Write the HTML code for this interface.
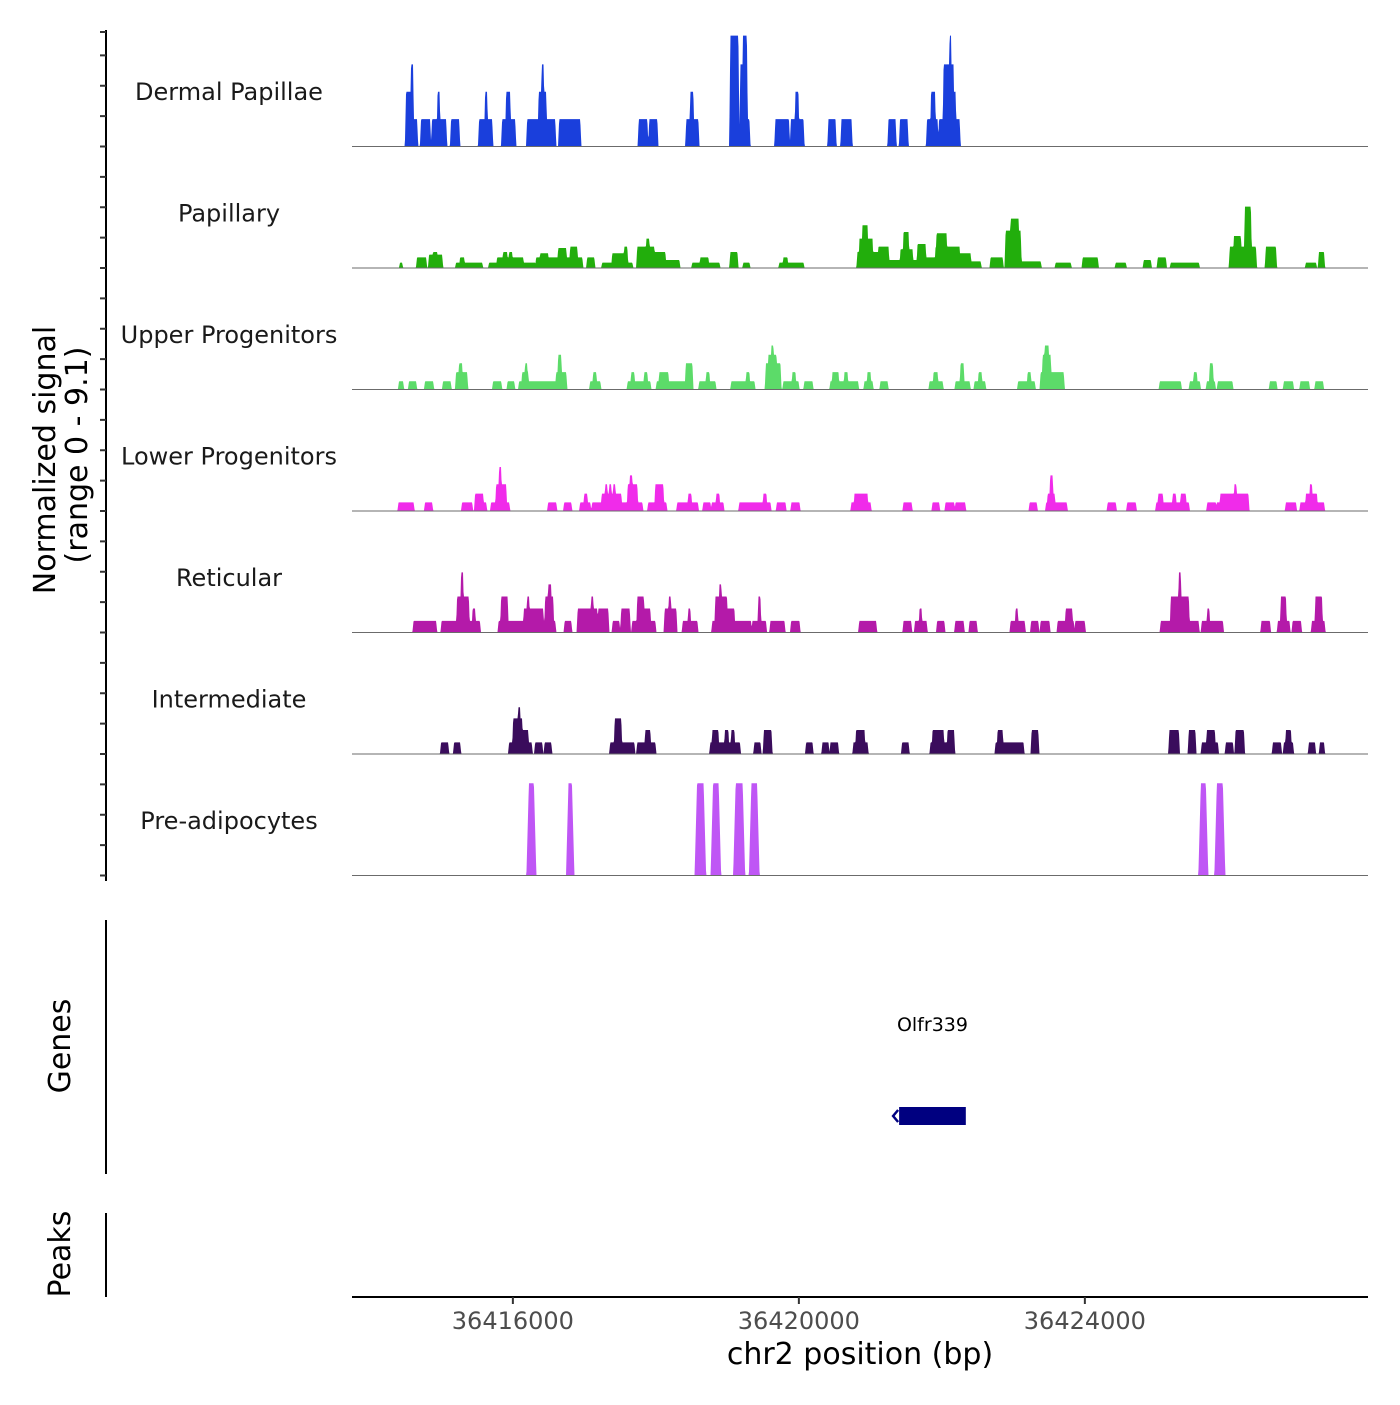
<!DOCTYPE html>
<html><head><meta charset="utf-8"><style>
html,body{margin:0;padding:0;background:#fff;}
svg text{font-family:"DejaVu Sans","Liberation Sans",sans-serif;}
</style></head><body>
<svg id="chart" width="1400" height="1400" viewBox="0 0 1400 1400" xmlns="http://www.w3.org/2000/svg">
<rect x="0" y="0" width="1400" height="1400" fill="#fff"/>
<g id="tracks"></g>
<g id="leftaxis"></g>
<text transform="translate(55,460) rotate(-90)" text-anchor="middle" font-size="30" fill="#000">Normalized signal</text>
<text transform="translate(87,455) rotate(-90)" text-anchor="middle" font-size="30" fill="#000">(range 0 - 9.1)</text>
<line x1="106" y1="920" x2="106" y2="1174" stroke="#000" stroke-width="2"/>
<text transform="translate(70,1046) rotate(-90)" text-anchor="middle" font-size="30" fill="#000">Genes</text>
<line x1="106" y1="1213" x2="106" y2="1297" stroke="#000" stroke-width="2"/>
<text transform="translate(70,1254) rotate(-90)" text-anchor="middle" font-size="30" fill="#000">Peaks</text>
<g id="genes"></g>
<g id="xaxis"></g>
<text x="860" y="1364" text-anchor="middle" font-size="30" fill="#000">chr2 position (bp)</text>
</svg>
<script>
const regionStart = 36413750;
const regionEnd = 36427960;
const yMax = 9.1;
const xTicks = [36416000, 36420000, 36424000];
const xTickLabels = ["36416000", "36420000", "36424000"];
const trackNames = ["Dermal Papillae","Papillary","Upper Progenitors","Lower Progenitors","Reticular","Intermediate","Pre-adipocytes"];
const trackColors = ["#1a3fdc","#22ae0c","#5cdb69","#f02bea","#b41aa9","#3a0c5c","#bf56f5"];
// segments: [startOffsetBp, endOffsetBp, value] relative to regionStart
const dermalPapillae = [[756,910,2.05],[756,833,4.1],[826,854,6.15],[966,1092,2.05],[1120,1316,2.05],[1197,1225,4.1],[1386,1498,2.05],[1778,1960,2.05],[1862,1890,4.1],[2100,2282,2.05],[2156,2212,4.1],[2450,2842,2.05],[2611,2716,4.1],[2653,2681,6.15],[2898,3192,2.05],[4011,4130,2.05],[4158,4270,2.05],[4676,4844,2.05],[4732,4774,4.1],[5292,5404,8.3],[5432,5558,2.05],[5432,5467,6.15],[5467,5523,8.3],[5922,6111,2.05],[6139,6314,2.05],[6202,6244,4.1],[6664,6762,2.05],[6846,6986,2.05],[7504,7602,2.05],[7665,7770,2.05],[8043,8190,2.05],[8099,8155,4.1],[8211,8498,2.05],[8274,8414,6.15],[8358,8380,8.3],[8414,8442,4.1]];
const papillary = [[672,700,0.4],[910,1036,0.8],[1078,1260,1.0],[1134,1190,1.2],[1456,1820,0.4],[1512,1568,0.8],[1918,2562,0.4],[2030,2394,0.8],[2114,2170,1.2],[2198,2240,1.2],[2576,3220,0.8],[2632,2744,1.1],[2884,2996,1.5],[3052,3150,1.6],[3290,3388,0.8],[3500,3920,0.4],[3640,3836,1.1],[3808,3850,1.6],[3990,4228,1.6],[4116,4158,2.2],[4228,4382,1.2],[4382,4578,0.6],[4760,5138,0.4],[4872,4984,0.8],[5292,5390,1.2],[5474,5558,0.4],[5978,6314,0.4],[6034,6090,0.8],[7070,7364,1.2],[7098,7280,2.2],[7140,7210,3.2],[7364,7504,1.6],[7504,7672,0.6],[7672,7840,1.4],[7714,7784,2.7],[7840,7910,0.6],[7910,8022,1.8],[8022,8162,0.8],[8162,8498,1.6],[8176,8316,2.6],[8498,8652,1.1],[8652,8792,0.5],[8932,9100,0.8],[9142,9352,2.8],[9212,9324,3.7],[9352,9632,0.5],[9842,10052,0.4],[10220,10430,0.8],[10682,10822,0.4],[11074,11172,0.6],[11270,11382,0.8],[11452,11844,0.4],[12278,12642,1.6],[12334,12432,2.4],[12488,12572,4.6],[12782,12922,1.6],[13342,13482,0.4],[13524,13594,1.2]];
const upperProgenitors = [[658,714,0.62],[798,896,0.62],[1022,1134,0.62],[1274,1379,0.62],[1456,1610,1.3],[1498,1540,1.97],[1974,2086,0.62],[2177,2268,0.62],[2338,2856,0.62],[2380,2464,1.3],[2422,2450,1.97],[2856,2996,1.3],[2884,2926,2.6],[3332,3472,0.62],[3374,3416,1.3],[3857,4172,0.62],[3906,3948,1.3],[4088,4130,1.3],[4263,4760,0.62],[4298,4424,1.3],[4669,4760,1.97],[4858,5082,0.62],[4956,4998,1.3],[5306,5628,0.62],[5516,5558,1.3],[5789,5992,1.97],[5824,5936,2.6],[5866,5894,3.3],[6034,6244,0.62],[6160,6202,1.3],[6328,6440,0.62],[6692,7077,0.62],[6720,6804,1.3],[6888,6930,1.3],[7168,7280,0.62],[7210,7252,1.3],[7392,7490,0.62],[8078,8260,0.62],[8134,8190,1.3],[8442,8638,0.62],[8512,8554,1.97],[8708,8855,0.62],[8764,8806,1.3],[9317,9548,0.62],[9450,9492,1.3],[9632,9954,1.3],[9660,9772,2.6],[9688,9744,3.3],[11298,11592,0.62],[11718,11858,0.62],[11774,11816,1.3],[11956,12068,0.62],[11998,12040,1.97],[12110,12313,0.62],[12838,12929,0.62],[13034,13160,0.62],[13265,13384,0.62],[13475,13580,0.62]];
const lowerProgenitors = [[651,861,0.65],[1022,1120,0.65],[1540,1680,0.65],[1722,1876,0.65],[1722,1834,1.3],[1946,2198,0.65],[2016,2156,2.0],[2058,2086,3.3],[2744,2856,0.65],[2968,3066,0.65],[3192,3332,0.65],[3248,3290,1.3],[3360,3493,0.65],[3493,3766,1.3],[3542,3570,2.0],[3598,3626,2.0],[3654,3682,2.0],[3766,3857,0.65],[3857,3990,2.0],[3885,3920,2.67],[3990,4060,0.65],[4144,4396,0.65],[4242,4354,2.0],[4550,4837,0.65],[4704,4746,1.3],[4914,5012,0.65],[5033,5194,0.65],[5096,5138,1.3],[5418,5852,0.65],[5754,5796,1.3],[5943,6062,0.65],[6146,6258,0.65],[6986,7252,0.65],[7028,7210,1.3],[7714,7826,0.65],[8120,8211,0.65],[8302,8421,0.65],[8442,8575,0.65],[9478,9576,0.65],[9709,9996,0.65],[9730,9828,1.3],[9765,9800,2.67],[10570,10682,0.65],[10843,10962,0.65],[11249,11704,0.65],[11277,11340,1.3],[11480,11522,1.3],[11592,11662,1.3],[11963,12082,0.65],[12096,12537,0.65],[12145,12537,1.3],[12341,12369,2.0],[13062,13202,0.65],[13265,13594,0.65],[13342,13496,1.3],[13398,13426,2.0]];
const reticular = [[861,1176,0.87],[1253,1379,0.87],[1379,1788,0.87],[1470,1634,2.7],[1526,1554,4.5],[1687,1722,1.8],[2051,2842,0.87],[2086,2177,2.7],[2404,2674,1.8],[2450,2478,2.7],[2702,2814,2.7],[2744,2786,3.6],[2975,3066,0.87],[3157,3284,1.8],[3284,3430,1.8],[3346,3374,2.7],[3444,3584,1.8],[3647,3738,0.87],[3766,3884,1.8],[3920,4242,0.87],[3990,4082,2.7],[4082,4172,1.8],[4374,4536,1.8],[4431,4459,2.7],[4627,4830,0.87],[4704,4732,1.8],[5040,5580,0.87],[5082,5244,2.7],[5138,5166,3.6],[5244,5348,1.8],[5600,5789,0.87],[5684,5712,2.7],[5852,6048,0.87],[6142,6258,0.87],[7095,7330,0.87],[7714,7820,0.87],[7875,8036,0.87],[7938,7966,1.8],[8184,8284,0.87],[8438,8554,0.87],[8638,8736,0.87],[9212,9408,0.87],[9282,9310,1.8],[9499,9598,0.87],[9632,9754,0.87],[9870,10094,0.87],[9982,10073,1.8],[10116,10248,0.87],[11312,11840,0.87],[11452,11704,2.7],[11564,11592,4.5],[11886,12068,0.87],[11963,11991,1.8],[12068,12180,0.87],[12720,12838,0.87],[12950,13111,0.87],[12992,13062,2.7],[13156,13272,0.87],[13426,13601,0.87],[13475,13566,2.7]];
const intermediate = [[1246,1344,0.87],[1428,1512,0.87],[2198,2513,0.87],[2254,2380,2.67],[2324,2352,3.5],[2380,2464,1.8],[2562,2660,0.87],[2695,2786,0.87],[3612,3948,0.87],[3675,3766,2.67],[3990,4242,0.87],[4102,4172,1.8],[5012,5425,0.87],[5040,5124,1.8],[5216,5264,1.8],[5306,5348,1.8],[5628,5712,0.87],[5761,5866,1.8],[6352,6440,0.87],[6580,6664,0.87],[6692,6797,0.87],[7014,7210,0.87],[7050,7168,1.8],[7694,7784,0.87],[8092,8420,0.87],[8120,8274,1.8],[8330,8420,1.8],[9002,9391,0.87],[9030,9100,1.8],[9506,9598,1.8],[11432,11564,1.8],[11704,11795,1.8],[11886,12110,0.87],[11956,12068,1.8],[12222,12320,0.87],[12358,12474,1.8],[12880,12992,0.87],[13034,13160,0.87],[13062,13132,1.8],[13384,13468,0.87],[13538,13594,0.87]];
const preAdipocytes = [[2474,2544,6.91],[3028,3076,6.91],[4826,4918,6.91],[5050,5128,6.91],[5366,5464,6.91],[5586,5666,6.91],[11872,11942,6.91],[12096,12180,6.91]];
const trackData = [dermalPapillae, papillary, upperProgenitors, lowerProgenitors, reticular, intermediate, preAdipocytes];
const genes = [["Olfr339", 36421402, 36422335]];

const NS = "http://www.w3.org/2000/svg";
const plotX0 = 352, plotX1 = 1368;
const trackTop0 = 25, trackH = 121.5;
function xScale(bp){ return plotX0 + (bp - regionStart) / (regionEnd - regionStart) * (plotX1 - plotX0); }
function yScale(v, i){ const base = trackTop0 + trackH*(i+1); return base - Math.min(v, yMax) / yMax * trackH; }
function mk(tag, attrs, parent){ const e = document.createElementNS(NS, tag); for (const k in attrs) e.setAttribute(k, attrs[k]); parent.appendChild(e); return e; }

const gTracks = document.getElementById('tracks');
trackData.forEach((segs, i) => {
  const g = mk('g', {}, gTracks);
  
  
  const ramp = i === 6 ? 2.5 : 1.2;
  const px = segs.map(s => [xScale(regionStart + s[0]), xScale(regionStart + s[1]), s[2]]);
  let d = '';
  const base = trackTop0 + trackH*(i+1);
  const step = 0.5;
  d += 'M' + plotX0 + ',' + base;
  for (let x = plotX0; x <= plotX1; x += step) {
    let h = 0;
    for (const s of px) {
      let f = 0;
      if (x >= s[0] && x <= s[1]) f = 1;
      else if (x < s[0] && x > s[0]-ramp) f = 1 - (s[0]-x)/ramp;
      else if (x > s[1] && x < s[1]+ramp) f = 1 - (x-s[1])/ramp;
      if (f*s[2] > h) h = f*s[2];
    }
    d += 'L' + x.toFixed(1) + ',' + yScale(h, i).toFixed(2);
  }
  d += 'L' + plotX1 + ',' + base + 'Z';
  const p = mk('path', {d: d, fill: trackColors[i], stroke: 'none'}, g);
  
  
  const bl = mk('line', {x1: plotX0, x2: plotX1, y1: base, y2: base, stroke: '#6b6b6b', 'stroke-width': 1}, g);
  
  
  const t = mk('text', {x: 229, y: base - trackH/2 + 14, 'text-anchor': 'middle', 'font-size': 24, fill: '#1a1a1a'}, g);
  
  
  t.textContent = trackNames[i];
});

const gL = document.getElementById('leftaxis');
const al = mk('line', {x1: 106, x2: 106, y1: 30, y2: 881, stroke: '#000', 'stroke-width': 2}, gL);


for (let k = 0; k <= 28; k++) {
  const y = trackTop0 + k*trackH/4;
  if (y < 30) continue;
  const tk = mk('line', {x1: 100, x2: 106, y1: y, y2: y, stroke: '#333', 'stroke-width': 2}, gL);
  
  
}
const tk0 = mk('line', {x1: 100, x2: 106, y1: 32, y2: 32, stroke: '#333', 'stroke-width': 2}, gL);



const gG = document.getElementById('genes');
genes.forEach(gn => {
  const x0 = xScale(gn[1]), x1 = xScale(gn[2]);
  const r = mk('rect', {x: x0, y: 1107, width: x1-x0, height: 18, fill: '#000080'}, gG);
  
  
  const a = mk('path', {d: 'M' + (x0-1) + ',1110 L' + (x0-6) + ',1116 L' + (x0-1) + ',1122', fill: 'none', stroke: '#000080', 'stroke-width': 2.5}, gG);
  
  
  const t = mk('text', {x: (x0+x1)/2, y: 1031, 'text-anchor': 'middle', 'font-size': 19, fill: '#000'}, gG);
  
  
  t.textContent = gn[0];
});

const gX = document.getElementById('xaxis');
const xl = mk('line', {x1: plotX0, x2: plotX1, y1: 1297, y2: 1297, stroke: '#000', 'stroke-width': 2}, gX);


xTicks.forEach((v, i) => {
  const x = xScale(v);
  const tk = mk('line', {x1: x, x2: x, y1: 1297, y2: 1304, stroke: '#333', 'stroke-width': 2}, gX);
  
  
  const t = mk('text', {x: x, y: 1329, 'text-anchor': 'middle', 'font-size': 24, fill: '#4d4d4d'}, gX);
  
  
  t.textContent = xTickLabels[i];
});
</script>
</body></html>
